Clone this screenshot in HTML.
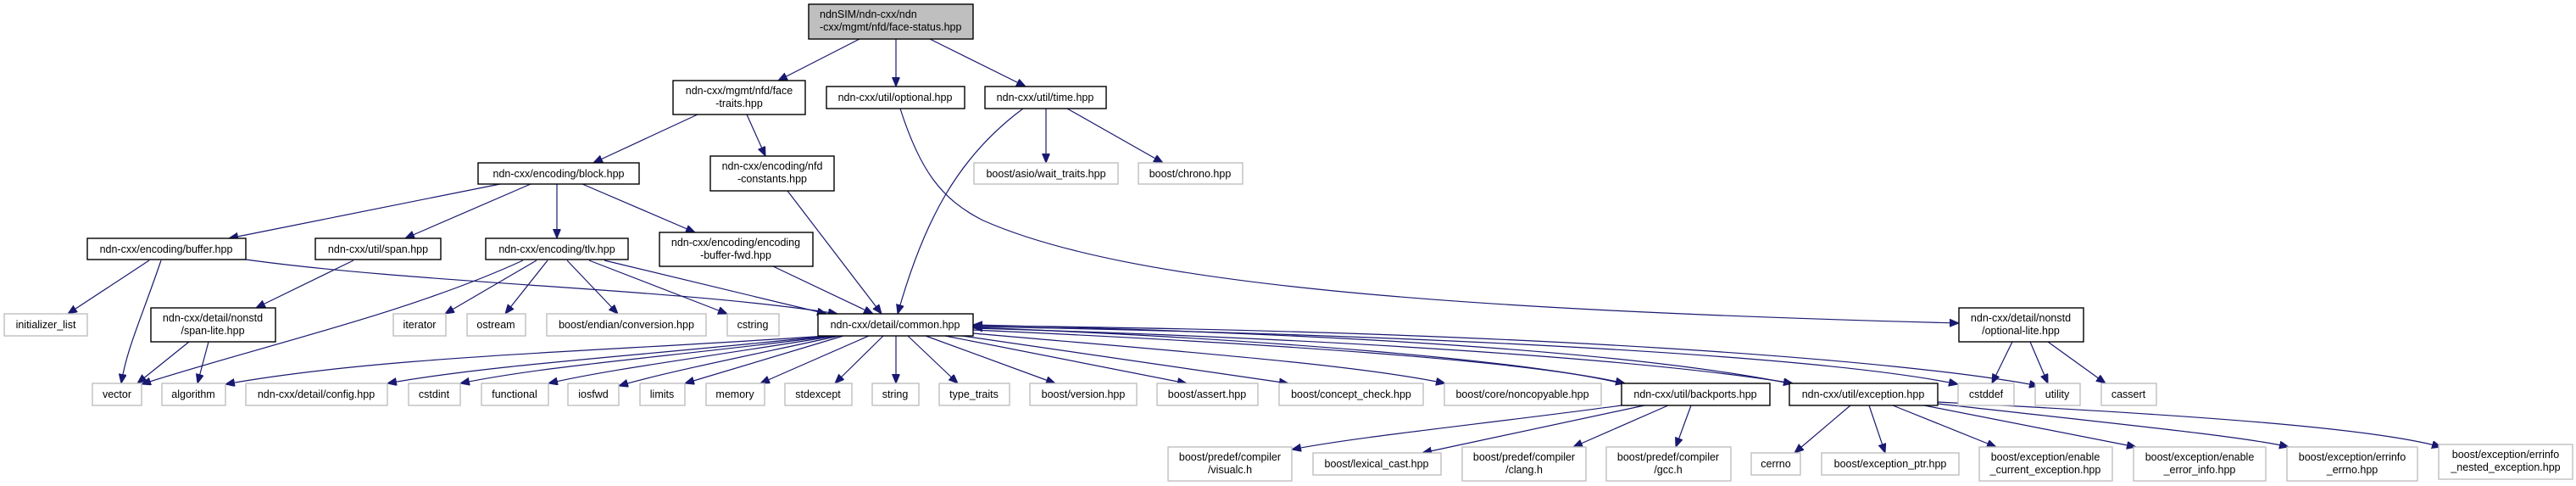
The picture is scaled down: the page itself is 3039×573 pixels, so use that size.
<!DOCTYPE html>
<html><head><meta charset="utf-8"><style>
html,body{margin:0;padding:0;background:#fff;}
svg{display:block;}
text{font-family:"Liberation Sans",Arial,sans-serif;font-size:12.5px;fill:#000;}
.d{fill:#fff;stroke:#000;stroke-width:1.4;}
.x{fill:#fff;stroke:#bfbfbf;stroke-width:1.4;}
.e{fill:none;stroke:#191970;stroke-width:1.2;marker-end:url(#a);}
</style></head><body>
<svg width="3039" height="573" viewBox="0 0 3039 573" xmlns="http://www.w3.org/2000/svg">
<defs><marker id="a" markerUnits="userSpaceOnUse" markerWidth="12" markerHeight="10" refX="11" refY="4.5" orient="auto"><path d="M0,0 L11,4.5 L0,9 z" fill="#191970" stroke="#191970"/></marker></defs>

<!-- edges -->
<path class="e" d="M1014,46 L918,95"/>
<path class="e" d="M1057,46 L1057,102"/>
<path class="e" d="M1097,46 L1210,102"/>
<path class="e" d="M823,135 L700,192"/>
<path class="e" d="M881,135 L903,184"/>
<path class="e" d="M1062,128 C1085,200 1110,235 1160,260 C1330,335 1700,365 2311,381"/>
<path class="e" d="M1207,128 C1130,185 1090,260 1059,370"/>
<path class="e" d="M1234,128 L1234,192"/>
<path class="e" d="M1259,128 L1372,192"/>
<path class="e" d="M929,225 L1040,370"/>
<path class="e" d="M590,217 L270,281"/>
<path class="e" d="M626,217 L478,281"/>
<path class="e" d="M657,217 L657,281"/>
<path class="e" d="M687,217 L820,274"/>
<path class="e" d="M912,314 L1030,370"/>
<path class="e" d="M176,307 L80,370"/>
<path class="e" d="M190,307 C165,380 150,410 143,452"/>
<path class="e" d="M290,306 C500,335 800,340 988,370"/>
<path class="e" d="M417,307 L302,363"/>
<path class="e" d="M223,403 L162,452"/>
<path class="e" d="M246,403 L233,452"/>
<path class="e" d="M617,307 C480,370 300,410 167,453"/>
<path class="e" d="M633,307 L525,370"/>
<path class="e" d="M646,307 L596,370"/>
<path class="e" d="M669,307 L729,370"/>
<path class="e" d="M695,307 L858,370"/>
<path class="e" d="M713,307 L975,370"/>
<path class="e" d="M975,396 C700,415 450,420 266,453"/>
<path class="e" d="M978,396 C750,420 580,430 457,452"/>
<path class="e" d="M982,396 C800,420 650,430 543,452"/>
<path class="e" d="M986,396 C840,420 720,435 647,452"/>
<path class="e" d="M990,396 C880,420 780,440 730,455"/>
<path class="e" d="M995,396 L808,452"/>
<path class="e" d="M1025,396 L897,452"/>
<path class="e" d="M1042,396 L985,452"/>
<path class="e" d="M1057,396 L1057,452"/>
<path class="e" d="M1071,396 L1130,452"/>
<path class="e" d="M1092,396 L1245,452"/>
<path class="e" d="M1115,396 L1400,452"/>
<path class="e" d="M1135,396 L1520,452"/>
<path class="e" d="M1148,393 C1400,415 1600,430 1705,452"/>
<path class="e" d="M1148,389 C1500,405 1800,425 1917,452"/>
<path class="e" d="M1148,387 C1600,400 1950,425 2115,452"/>
<path class="e" d="M1148,385 C1700,395 2150,420 2310,453"/>
<path class="e" d="M1148,384 C1800,390 2250,425 2405,455"/>
<path class="e" d="M1913,452 C1800,425 1500,400 1148,386"/>
<path class="e" d="M2111,452 C1950,420 1650,395 1148,383"/>
<path class="e" d="M1913,478 C1750,500 1600,515 1524,530"/>
<path class="e" d="M1940,478 L1678,534"/>
<path class="e" d="M1968,478 L1856,527"/>
<path class="e" d="M1995,478 L1977,527"/>
<path class="e" d="M2183,478 L2117,534"/>
<path class="e" d="M2205,478 L2224,534"/>
<path class="e" d="M2233,478 L2355,527"/>
<path class="e" d="M2270,478 L2520,527"/>
<path class="e" d="M2286,476 C2500,500 2650,515 2700,527"/>
<path class="e" d="M2286,474 C2600,490 2800,505 2880,527"/>
<path class="e" d="M2374,403 L2350,452"/>
<path class="e" d="M2395,403 L2416,452"/>
<path class="e" d="M2416,403 L2484,452"/>

<!-- nodes -->
<rect x="954" y="5" width="194" height="41" fill="#bfbfbf" stroke="#000" stroke-width="1.4"/>
<text x="967" y="21">ndnSIM/ndn-cxx/ndn</text>
<text x="967" y="36">-cxx/mgmt/nfd/face-status.hpp</text>

<rect class="d" x="794" y="95" width="156" height="40"/>
<text x="872" y="111" text-anchor="middle">ndn-cxx/mgmt/nfd/face</text>
<text x="872" y="126" text-anchor="middle">-traits.hpp</text>

<rect class="d" x="975" y="102" width="163" height="26"/><text x="1056" y="119" text-anchor="middle">ndn-cxx/util/optional.hpp</text>
<rect class="d" x="1162" y="102" width="143" height="26"/><text x="1233" y="119" text-anchor="middle">ndn-cxx/util/time.hpp</text>

<rect class="d" x="838" y="184" width="146" height="41"/>
<text x="911" y="200" text-anchor="middle">ndn-cxx/encoding/nfd</text>
<text x="911" y="215" text-anchor="middle">-constants.hpp</text>

<rect class="x" x="1149" y="192" width="170" height="25"/><text x="1234" y="209" text-anchor="middle">boost/asio/wait_traits.hpp</text>
<rect class="x" x="1343" y="192" width="123" height="25"/><text x="1404" y="209" text-anchor="middle">boost/chrono.hpp</text>

<rect class="d" x="564" y="192" width="190" height="25"/><text x="659" y="209" text-anchor="middle">ndn-cxx/encoding/block.hpp</text>

<rect class="d" x="778" y="274" width="181" height="40"/>
<text x="868" y="290" text-anchor="middle">ndn-cxx/encoding/encoding</text>
<text x="868" y="305" text-anchor="middle">-buffer-fwd.hpp</text>

<rect class="d" x="103" y="281" width="187" height="25"/><text x="196" y="298" text-anchor="middle">ndn-cxx/encoding/buffer.hpp</text>
<rect class="d" x="372" y="281" width="148" height="25"/><text x="446" y="298" text-anchor="middle">ndn-cxx/util/span.hpp</text>
<rect class="d" x="573" y="281" width="168" height="25"/><text x="657" y="298" text-anchor="middle">ndn-cxx/encoding/tlv.hpp</text>

<rect class="x" x="5" y="370" width="98" height="26"/><text x="54" y="387" text-anchor="middle">initializer_list</text>
<rect class="d" x="178" y="363" width="147" height="40"/>
<text x="251" y="379" text-anchor="middle">ndn-cxx/detail/nonstd</text>
<text x="251" y="394" text-anchor="middle">/span-lite.hpp</text>
<rect class="x" x="464" y="370" width="62" height="26"/><text x="495" y="387" text-anchor="middle">iterator</text>
<rect class="x" x="551" y="370" width="69" height="26"/><text x="585" y="387" text-anchor="middle">ostream</text>
<rect class="x" x="645" y="370" width="188" height="26"/><text x="739" y="387" text-anchor="middle">boost/endian/conversion.hpp</text>
<rect class="x" x="858" y="370" width="61" height="26"/><text x="888" y="387" text-anchor="middle">cstring</text>
<rect class="d" x="965" y="370" width="183" height="26"/><text x="1056" y="387" text-anchor="middle">ndn-cxx/detail/common.hpp</text>
<rect class="d" x="2311" y="363" width="147" height="40"/>
<text x="2384" y="379" text-anchor="middle">ndn-cxx/detail/nonstd</text>
<text x="2384" y="394" text-anchor="middle">/optional-lite.hpp</text>

<rect class="x" x="109" y="452" width="58" height="26"/><text x="138" y="469" text-anchor="middle">vector</text>
<rect class="x" x="191" y="452" width="75" height="26"/><text x="228" y="469" text-anchor="middle">algorithm</text>
<rect class="x" x="290" y="452" width="167" height="26"/><text x="373" y="469" text-anchor="middle">ndn-cxx/detail/config.hpp</text>
<rect class="x" x="482" y="452" width="61" height="26"/><text x="512" y="469" text-anchor="middle">cstdint</text>
<rect class="x" x="568" y="452" width="79" height="26"/><text x="607" y="469" text-anchor="middle">functional</text>
<rect class="x" x="670" y="452" width="60" height="26"/><text x="700" y="469" text-anchor="middle">iosfwd</text>
<rect class="x" x="755" y="452" width="53" height="26"/><text x="781" y="469" text-anchor="middle">limits</text>
<rect class="x" x="833" y="452" width="69" height="26"/><text x="867" y="469" text-anchor="middle">memory</text>
<rect class="x" x="926" y="452" width="79" height="26"/><text x="965" y="469" text-anchor="middle">stdexcept</text>
<rect class="x" x="1029" y="452" width="55" height="26"/><text x="1056" y="469" text-anchor="middle">string</text>
<rect class="x" x="1108" y="452" width="83" height="26"/><text x="1149" y="469" text-anchor="middle">type_traits</text>
<rect class="x" x="1215" y="452" width="126" height="26"/><text x="1278" y="469" text-anchor="middle">boost/version.hpp</text>
<rect class="x" x="1365" y="452" width="119" height="26"/><text x="1424" y="469" text-anchor="middle">boost/assert.hpp</text>
<rect class="x" x="1509" y="452" width="170" height="26"/><text x="1594" y="469" text-anchor="middle">boost/concept_check.hpp</text>
<rect class="x" x="1704" y="452" width="185" height="26"/><text x="1796" y="469" text-anchor="middle">boost/core/noncopyable.hpp</text>
<rect class="d" x="1913" y="452" width="175" height="26"/><text x="2000" y="469" text-anchor="middle">ndn-cxx/util/backports.hpp</text>
<rect class="d" x="2111" y="452" width="175" height="26"/><text x="2198" y="469" text-anchor="middle">ndn-cxx/util/exception.hpp</text>
<rect class="x" x="2310" y="452" width="66" height="26"/><text x="2343" y="469" text-anchor="middle">cstddef</text>
<rect class="x" x="2401" y="452" width="53" height="26"/><text x="2427" y="469" text-anchor="middle">utility</text>
<rect class="x" x="2479" y="452" width="65" height="26"/><text x="2511" y="469" text-anchor="middle">cassert</text>

<rect class="x" x="1378" y="527" width="146" height="40"/>
<text x="1451" y="543" text-anchor="middle">boost/predef/compiler</text>
<text x="1451" y="558" text-anchor="middle">/visualc.h</text>
<rect class="x" x="1549" y="534" width="151" height="26"/><text x="1624" y="551" text-anchor="middle">boost/lexical_cast.hpp</text>
<rect class="x" x="1725" y="527" width="146" height="40"/>
<text x="1798" y="543" text-anchor="middle">boost/predef/compiler</text>
<text x="1798" y="558" text-anchor="middle">/clang.h</text>
<rect class="x" x="1895" y="527" width="147" height="40"/>
<text x="1968" y="543" text-anchor="middle">boost/predef/compiler</text>
<text x="1968" y="558" text-anchor="middle">/gcc.h</text>
<rect class="x" x="2066" y="534" width="58" height="26"/><text x="2095" y="551" text-anchor="middle">cerrno</text>
<rect class="x" x="2149" y="534" width="162" height="26"/><text x="2230" y="551" text-anchor="middle">boost/exception_ptr.hpp</text>
<rect class="x" x="2335" y="527" width="157" height="40"/>
<text x="2413" y="543" text-anchor="middle">boost/exception/enable</text>
<text x="2413" y="558" text-anchor="middle">_current_exception.hpp</text>
<rect class="x" x="2517" y="527" width="156" height="40"/>
<text x="2595" y="543" text-anchor="middle">boost/exception/enable</text>
<text x="2595" y="558" text-anchor="middle">_error_info.hpp</text>
<rect class="x" x="2698" y="527" width="154" height="40"/>
<text x="2775" y="543" text-anchor="middle">boost/exception/errinfo</text>
<text x="2775" y="558" text-anchor="middle">_errno.hpp</text>
<rect class="x" x="2877" y="524" width="158" height="41"/>
<text x="2956" y="540" text-anchor="middle">boost/exception/errinfo</text>
<text x="2956" y="555" text-anchor="middle">_nested_exception.hpp</text>
</svg>
</body></html>
